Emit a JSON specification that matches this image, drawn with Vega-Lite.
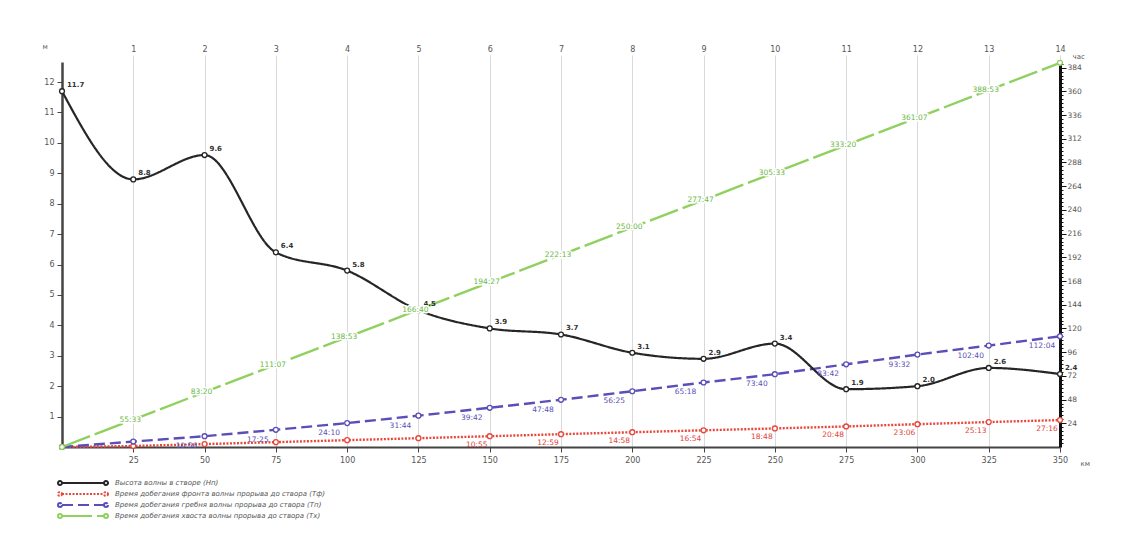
{
  "$schema": "https://vega.github.io/schema/vega-lite/v6.json",
  "width": 998,
  "height": 385,
  "autosize": {"type": "none"},
  "padding": {"left": 62, "top": 62, "right": 65, "bottom": 91},
  "background": "white",
  "config": {"view": {"stroke": null}, "font": "DejaVu Sans"},
  "data": {"values": [
    {"km": 0, "series": "Высота волны в створе (Нп)", "v": 11.7, "label": "11.7"},
    {"km": 25, "series": "Высота волны в створе (Нп)", "v": 8.8, "label": "8.8"},
    {"km": 50, "series": "Высота волны в створе (Нп)", "v": 9.6, "label": "9.6"},
    {"km": 75, "series": "Высота волны в створе (Нп)", "v": 6.4, "label": "6.4"},
    {"km": 100, "series": "Высота волны в створе (Нп)", "v": 5.8, "label": "5.8"},
    {"km": 125, "series": "Высота волны в створе (Нп)", "v": 4.5, "label": "4.5"},
    {"km": 150, "series": "Высота волны в створе (Нп)", "v": 3.9, "label": "3.9"},
    {"km": 175, "series": "Высота волны в створе (Нп)", "v": 3.7, "label": "3.7"},
    {"km": 200, "series": "Высота волны в створе (Нп)", "v": 3.1, "label": "3.1"},
    {"km": 225, "series": "Высота волны в створе (Нп)", "v": 2.9, "label": "2.9"},
    {"km": 250, "series": "Высота волны в створе (Нп)", "v": 3.4, "label": "3.4"},
    {"km": 275, "series": "Высота волны в створе (Нп)", "v": 1.9, "label": "1.9"},
    {"km": 300, "series": "Высота волны в створе (Нп)", "v": 2.0, "label": "2.0"},
    {"km": 325, "series": "Высота волны в створе (Нп)", "v": 2.6, "label": "2.6"},
    {"km": 350, "series": "Высота волны в створе (Нп)", "v": 2.4, "label": "2.4"},

    {"km": 0, "series": "Время добегания фронта волны прорыва до створа (Тф)", "v": 0, "label": ""},
    {"km": 25, "series": "Время добегания фронта волны прорыва до створа (Тф)", "v": 0.98, "label": ""},
    {"km": 50, "series": "Время добегания фронта волны прорыва до створа (Тф)", "v": 2.95, "label": ""},
    {"km": 75, "series": "Время добегания фронта волны прорыва до створа (Тф)", "v": 4.93, "label": ""},
    {"km": 100, "series": "Время добегания фронта волны прорыва до створа (Тф)", "v": 6.92, "label": ""},
    {"km": 125, "series": "Время добегания фронта волны прорыва до створа (Тф)", "v": 8.92, "label": ""},
    {"km": 150, "series": "Время добегания фронта волны прорыва до створа (Тф)", "v": 10.92, "label": "10:55"},
    {"km": 175, "series": "Время добегания фронта волны прорыва до створа (Тф)", "v": 12.98, "label": "12:59"},
    {"km": 200, "series": "Время добегания фронта волны прорыва до створа (Тф)", "v": 14.97, "label": "14:58"},
    {"km": 225, "series": "Время добегания фронта волны прорыва до створа (Тф)", "v": 16.9, "label": "16:54"},
    {"km": 250, "series": "Время добегания фронта волны прорыва до створа (Тф)", "v": 18.8, "label": "18:48"},
    {"km": 275, "series": "Время добегания фронта волны прорыва до створа (Тф)", "v": 20.8, "label": "20:48"},
    {"km": 300, "series": "Время добегания фронта волны прорыва до створа (Тф)", "v": 23.1, "label": "23:06"},
    {"km": 325, "series": "Время добегания фронта волны прорыва до створа (Тф)", "v": 25.22, "label": "25:13"},
    {"km": 350, "series": "Время добегания фронта волны прорыва до створа (Тф)", "v": 27.27, "label": "27:16"},

    {"km": 0, "series": "Время добегания гребня волны прорыва до створа (Тп)", "v": 0, "label": ""},
    {"km": 25, "series": "Время добегания гребня волны прорыва до створа (Тп)", "v": 5.5, "label": ""},
    {"km": 50, "series": "Время добегания гребня волны прорыва до створа (Тп)", "v": 10.93, "label": "10:56"},
    {"km": 75, "series": "Время добегания гребня волны прорыва до створа (Тп)", "v": 17.42, "label": "17:25"},
    {"km": 100, "series": "Время добегания гребня волны прорыва до створа (Тп)", "v": 24.17, "label": "24:10"},
    {"km": 125, "series": "Время добегания гребня волны прорыва до створа (Тп)", "v": 31.73, "label": "31:44"},
    {"km": 150, "series": "Время добегания гребня волны прорыва до створа (Тп)", "v": 39.7, "label": "39:42"},
    {"km": 175, "series": "Время добегания гребня волны прорыва до створа (Тп)", "v": 47.8, "label": "47:48"},
    {"km": 200, "series": "Время добегания гребня волны прорыва до створа (Тп)", "v": 56.42, "label": "56:25"},
    {"km": 225, "series": "Время добегания гребня волны прорыва до створа (Тп)", "v": 65.3, "label": "65:18"},
    {"km": 250, "series": "Время добегания гребня волны прорыва до створа (Тп)", "v": 73.67, "label": "73:40"},
    {"km": 275, "series": "Время добегания гребня волны прорыва до створа (Тп)", "v": 83.7, "label": "83:42"},
    {"km": 300, "series": "Время добегания гребня волны прорыва до створа (Тп)", "v": 93.53, "label": "93:32"},
    {"km": 325, "series": "Время добегания гребня волны прорыва до створа (Тп)", "v": 102.67, "label": "102:40"},
    {"km": 350, "series": "Время добегания гребня волны прорыва до створа (Тп)", "v": 112.07, "label": "112:04"},

    {"km": 0, "series": "Время добегания хвоста волны прорыва до створа (Тх)", "v": 0, "label": ""},
    {"km": 25, "series": "Время добегания хвоста волны прорыва до створа (Тх)", "v": 27.78, "label": "55:33"},
    {"km": 50, "series": "Время добегания хвоста волны прорыва до створа (Тх)", "v": 55.56, "label": "83:20"},
    {"km": 75, "series": "Время добегания хвоста волны прорыва до створа (Тх)", "v": 83.33, "label": "111:07"},
    {"km": 100, "series": "Время добегания хвоста волны прорыва до створа (Тх)", "v": 111.11, "label": "138:53"},
    {"km": 125, "series": "Время добегания хвоста волны прорыва до створа (Тх)", "v": 138.89, "label": "166:40"},
    {"km": 150, "series": "Время добегания хвоста волны прорыва до створа (Тх)", "v": 166.67, "label": "194:27"},
    {"km": 175, "series": "Время добегания хвоста волны прорыва до створа (Тх)", "v": 194.44, "label": "222:13"},
    {"km": 200, "series": "Время добегания хвоста волны прорыва до створа (Тх)", "v": 222.22, "label": "250:00"},
    {"km": 225, "series": "Время добегания хвоста волны прорыва до створа (Тх)", "v": 250.0, "label": "277:47"},
    {"km": 250, "series": "Время добегания хвоста волны прорыва до створа (Тх)", "v": 277.78, "label": "305:33"},
    {"km": 275, "series": "Время добегания хвоста волны прорыва до створа (Тх)", "v": 305.56, "label": "333:20"},
    {"km": 300, "series": "Время добегания хвоста волны прорыва до створа (Тх)", "v": 333.33, "label": "361:07"},
    {"km": 325, "series": "Время добегания хвоста волны прорыва до створа (Тх)", "v": 361.11, "label": "388:53"},
    {"km": 350, "series": "Время добегания хвоста волны прорыва до створа (Тх)", "v": 388.89, "label": ""}
  ]},
  "layer": [
    {
      "transform": [{"filter": {"field": "series", "oneOf": ["Время добегания фронта волны прорыва до створа (Тф)", "Время добегания гребня волны прорыва до створа (Тп)", "Время добегания хвоста волны прорыва до створа (Тх)"]}}],
      "mark": {"type": "line", "interpolate": "linear", "strokeWidth": 2.4},
      "encoding": {
        "x": {"field": "km", "type": "quantitative", "scale": {"domain": [0, 350], "nice": false, "zero": false},
          "axis": {"orient": "top", "values": [25, 50, 75, 100, 125, 150, 175, 200, 225, 250, 275, 300, 325, 350], "labelExpr": "format(datum.value / 25, 'd')", "grid": true, "gridColor": "#d9d9d9", "gridWidth": 1, "domain": false, "ticks": true, "tickColor": "#d9d9d9", "tickSize": 7, "labelFontSize": 8, "labelColor": "#555555", "labelPadding": 2, "labelFlush": false, "labelOverlap": false, "title": null}},
        "y": {"field": "v", "type": "quantitative", "scale": {"domain": [0, 389.7], "nice": false, "zero": false},
          "axis": {"orient": "right", "values": [4, 8, 12, 16, 20, 24, 28, 32, 36, 40, 44, 48, 52, 56, 60, 64, 68, 72, 76, 80, 84, 88, 92, 96, 100, 104, 108, 112, 116, 120, 124, 128, 132, 136, 140, 144, 148, 152, 156, 160, 164, 168, 172, 176, 180, 184, 188, 192, 196, 200, 204, 208, 212, 216, 220, 224, 228, 232, 236, 240, 244, 248, 252, 256, 260, 264, 268, 272, 276, 280, 284, 288, 292, 296, 300, 304, 308, 312, 316, 320, 324, 328, 332, 336, 340, 344, 348, 352, 356, 360, 364, 368, 372, 376, 380, 384, 388],
            "labelExpr": "datum.value % 24 === 0 ? datum.label : ''", "tickSize": {"condition": {"test": "datum.value % 24 === 0", "value": 6}, "value": 3}, "tickColor": "#111111", "tickWidth": 1, "domainColor": "#111111", "domainWidth": 3, "labelFontSize": 7.5, "labelColor": "#555555", "labelPadding": 1, "labelOverlap": false, "labelFlush": false, "grid": false,
            "title": "час", "titleAngle": 0, "titleX": 12, "titleY": -6, "titleAlign": "left", "titleBaseline": "middle", "titleFontSize": 7, "titleFontWeight": "normal", "titleColor": "#555555"}},
        "color": {"field": "series", "type": "nominal",
          "scale": {"domain": ["Высота волны в створе (Нп)", "Время добегания фронта волны прорыва до створа (Тф)", "Время добегания гребня волны прорыва до створа (Тп)", "Время добегания хвоста волны прорыва до створа (Тх)"], "range": ["#262626", "#e8473c", "#5a4fb8", "#8fd05f"]},
          "legend": {"orient": "none", "legendX": -2, "legendY": 416, "title": null, "symbolType": "M-0.75,0H9.75M-0.75,0A0.5,0.5 0 1 1 -1.75,0A0.5,0.5 0 1 1 -0.75,0M10.75,0A0.5,0.5 0 1 1 9.75,0A0.5,0.5 0 1 1 10.75,0", "symbolSize": 64, "symbolStrokeWidth": 2, "symbolFillColor": "white", "labelFontSize": 7, "labelFontStyle": "italic", "labelColor": "#555555", "rowPadding": -1, "labelOffset": 45, "labelLimit": 500}},
        "strokeDash": {"field": "series", "type": "nominal",
          "scale": {"domain": ["Высота волны в створе (Нп)", "Время добегания фронта волны прорыва до створа (Тф)", "Время добегания гребня волны прорыва до створа (Тп)", "Время добегания хвоста волны прорыва до створа (Тх)"], "range": [[1, 0], [2, 1.5], [11, 5], [30, 5]]},
          "legend": {"orient": "none", "legendX": -2, "legendY": 416, "title": null, "symbolType": "M-0.75,0H9.75M-0.75,0A0.5,0.5 0 1 1 -1.75,0A0.5,0.5 0 1 1 -0.75,0M10.75,0A0.5,0.5 0 1 1 9.75,0A0.5,0.5 0 1 1 10.75,0", "symbolSize": 64, "symbolStrokeWidth": 2, "symbolFillColor": "white", "labelFontSize": 7, "labelFontStyle": "italic", "labelColor": "#555555", "rowPadding": -1, "labelOffset": 45, "labelLimit": 500}}
      }
    },
    {
      "transform": [{"filter": {"field": "series", "oneOf": ["Время добегания фронта волны прорыва до створа (Тф)", "Время добегания гребня волны прорыва до створа (Тп)", "Время добегания хвоста волны прорыва до створа (Тх)"]}}],
      "mark": {"type": "point", "shape": "circle", "filled": true, "fill": "white", "size": 24, "strokeWidth": 1.3, "opacity": 1},
      "encoding": {
        "x": {"field": "km", "type": "quantitative", "scale": {"domain": [0, 350], "nice": false, "zero": false}, "axis": null},
        "y": {"field": "v", "type": "quantitative", "scale": {"domain": [0, 389.7], "nice": false, "zero": false}, "axis": null},
        "stroke": {"field": "series", "type": "nominal", "legend": null,
          "scale": {"domain": ["Высота волны в створе (Нп)", "Время добегания фронта волны прорыва до створа (Тф)", "Время добегания гребня волны прорыва до створа (Тп)", "Время добегания хвоста волны прорыва до створа (Тх)"], "range": ["#262626", "#e8473c", "#5a4fb8", "#8fd05f"]}}
      }
    },
    {
      "transform": [{"filter": {"field": "series", "equal": "Высота волны в створе (Нп)"}}],
      "mark": {"type": "line", "interpolate": "monotone", "strokeWidth": 2.2},
      "encoding": {
        "x": {"field": "km", "type": "quantitative", "scale": {"domain": [0, 350], "nice": false, "zero": false},
          "axis": {"orient": "bottom", "values": [25, 50, 75, 100, 125, 150, 175, 200, 225, 250, 275, 300, 325, 350], "grid": false, "domainColor": "#444444", "domainWidth": 2, "tickColor": "#444444", "tickSize": 5, "labelFontSize": 8, "labelColor": "#555555", "labelPadding": 4, "labelFlush": false, "labelOverlap": false,
            "title": "км", "titleX": 1018, "titleY": 16, "titleAlign": "left", "titleBaseline": "middle", "titleFontSize": 7, "titleFontWeight": "normal", "titleColor": "#555555"}},
        "y": {"field": "v", "type": "quantitative", "scale": {"domain": [0, 12.66], "nice": false, "zero": false},
          "axis": {"orient": "left", "values": [1, 2, 3, 4, 5, 6, 7, 8, 9, 10, 11, 12], "grid": false, "domainColor": "#444444", "domainWidth": 2.5, "tickColor": "#444444", "tickSize": 5, "labelFontSize": 8, "labelColor": "#555555", "labelPadding": 3, "labelFlush": false, "labelOverlap": false,
            "title": "м", "titleAngle": 0, "titleX": -20, "titleY": -16, "titleAlign": "left", "titleBaseline": "middle", "titleFontSize": 7, "titleFontWeight": "normal", "titleColor": "#555555"}},
        "color": {"field": "series", "type": "nominal",
          "scale": {"domain": ["Высота волны в створе (Нп)", "Время добегания фронта волны прорыва до створа (Тф)", "Время добегания гребня волны прорыва до створа (Тп)", "Время добегания хвоста волны прорыва до створа (Тх)"], "range": ["#262626", "#e8473c", "#5a4fb8", "#8fd05f"]},
          "legend": {"orient": "none", "legendX": -2, "legendY": 416, "title": null, "symbolType": "M-0.75,0H9.75M-0.75,0A0.5,0.5 0 1 1 -1.75,0A0.5,0.5 0 1 1 -0.75,0M10.75,0A0.5,0.5 0 1 1 9.75,0A0.5,0.5 0 1 1 10.75,0", "symbolSize": 64, "symbolStrokeWidth": 2, "symbolFillColor": "white", "labelFontSize": 7, "labelFontStyle": "italic", "labelColor": "#555555", "rowPadding": -1, "labelOffset": 45, "labelLimit": 500}},
        "strokeDash": {"field": "series", "type": "nominal",
          "scale": {"domain": ["Высота волны в створе (Нп)", "Время добегания фронта волны прорыва до створа (Тф)", "Время добегания гребня волны прорыва до створа (Тп)", "Время добегания хвоста волны прорыва до створа (Тх)"], "range": [[1, 0], [2, 1.5], [11, 5], [30, 5]]},
          "legend": {"orient": "none", "legendX": -2, "legendY": 416, "title": null, "symbolType": "M-0.75,0H9.75M-0.75,0A0.5,0.5 0 1 1 -1.75,0A0.5,0.5 0 1 1 -0.75,0M10.75,0A0.5,0.5 0 1 1 9.75,0A0.5,0.5 0 1 1 10.75,0", "symbolSize": 64, "symbolStrokeWidth": 2, "symbolFillColor": "white", "labelFontSize": 7, "labelFontStyle": "italic", "labelColor": "#555555", "rowPadding": -1, "labelOffset": 45, "labelLimit": 500}}
      }
    },
    {
      "transform": [{"filter": {"field": "series", "equal": "Высота волны в створе (Нп)"}}],
      "mark": {"type": "point", "shape": "circle", "filled": true, "fill": "white", "stroke": "#262626", "size": 24, "strokeWidth": 1.3, "opacity": 1},
      "encoding": {
        "x": {"field": "km", "type": "quantitative", "scale": {"domain": [0, 350], "nice": false, "zero": false}, "axis": null},
        "y": {"field": "v", "type": "quantitative", "scale": {"domain": [0, 12.66], "nice": false, "zero": false}, "axis": null}
      }
    },
    {
      "transform": [{"filter": {"field": "series", "equal": "Высота волны в створе (Нп)"}}],
      "mark": {"type": "text", "align": "left", "baseline": "middle", "dx": 5, "dy": -6, "fontSize": 7, "fontWeight": "bold", "color": "#333333"},
      "encoding": {
        "x": {"field": "km", "type": "quantitative", "scale": {"domain": [0, 350], "nice": false, "zero": false}, "axis": null},
        "y": {"field": "v", "type": "quantitative", "scale": {"domain": [0, 12.66], "nice": false, "zero": false}, "axis": null},
        "text": {"field": "label"}
      }
    },
    {
      "transform": [{"filter": {"field": "series", "equal": "Время добегания фронта волны прорыва до створа (Тф)"}}],
      "mark": {"type": "text", "align": "center", "baseline": "middle", "dx": -13, "dy": 9, "fontSize": 7.5, "color": "#e0443a"},
      "encoding": {
        "x": {"field": "km", "type": "quantitative", "scale": {"domain": [0, 350], "nice": false, "zero": false}, "axis": null},
        "y": {"field": "v", "type": "quantitative", "scale": {"domain": [0, 389.7], "nice": false, "zero": false}, "axis": null},
        "text": {"field": "label"}
      }
    },
    {
      "transform": [{"filter": {"field": "series", "equal": "Время добегания гребня волны прорыва до створа (Тп)"}}],
      "mark": {"type": "text", "align": "center", "baseline": "middle", "dx": -18, "dy": 10, "fontSize": 7.5, "color": "#5a4fb8"},
      "encoding": {
        "x": {"field": "km", "type": "quantitative", "scale": {"domain": [0, 350], "nice": false, "zero": false}, "axis": null},
        "y": {"field": "v", "type": "quantitative", "scale": {"domain": [0, 389.7], "nice": false, "zero": false}, "axis": null},
        "text": {"field": "label"}
      }
    },
    {
      "transform": [{"filter": {"field": "series", "equal": "Время добегания хвоста волны прорыва до створа (Тх)"}}],
      "mark": {"type": "text", "align": "center", "baseline": "middle", "dx": -3, "dy": 0, "fontSize": 7.5, "color": "white", "stroke": "white", "strokeWidth": 3},
      "encoding": {
        "x": {"field": "km", "type": "quantitative", "scale": {"domain": [0, 350], "nice": false, "zero": false}, "axis": null},
        "y": {"field": "v", "type": "quantitative", "scale": {"domain": [0, 389.7], "nice": false, "zero": false}, "axis": null},
        "text": {"field": "label"}
      }
    },
    {
      "transform": [{"filter": {"field": "series", "equal": "Время добегания хвоста волны прорыва до створа (Тх)"}}],
      "mark": {"type": "text", "align": "center", "baseline": "middle", "dx": -3, "dy": 0, "fontSize": 7.5, "color": "#6ab845"},
      "encoding": {
        "x": {"field": "km", "type": "quantitative", "scale": {"domain": [0, 350], "nice": false, "zero": false}, "axis": null},
        "y": {"field": "v", "type": "quantitative", "scale": {"domain": [0, 389.7], "nice": false, "zero": false}, "axis": null},
        "text": {"field": "label"}
      }
    }
  ],
  "resolve": {"scale": {"y": "independent"}, "axis": {"x": "independent", "y": "independent"}}
}
